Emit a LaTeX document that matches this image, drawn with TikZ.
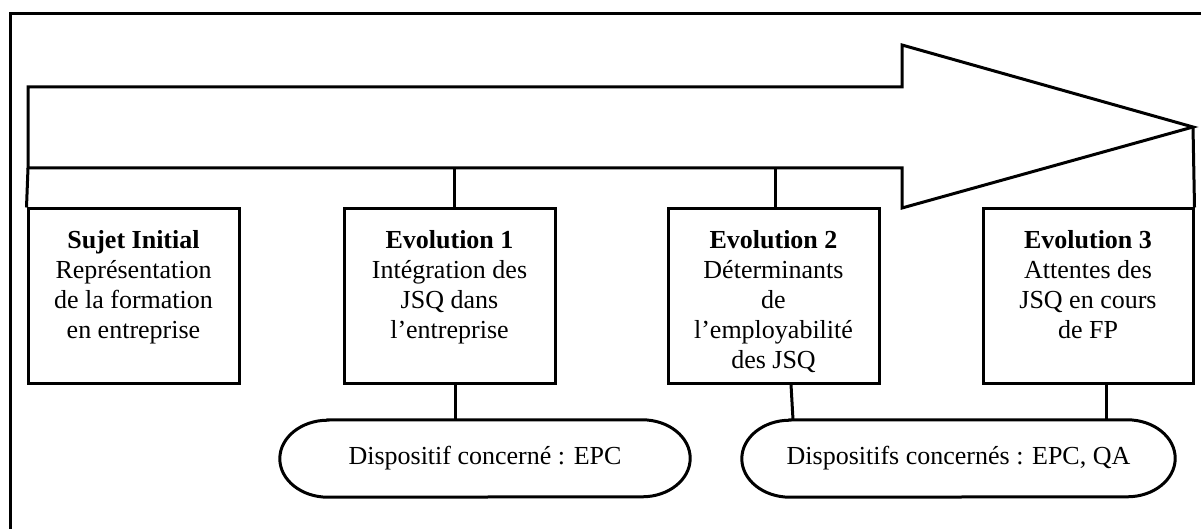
\documentclass[tikz,border=0pt]{standalone}
\usepackage{fontspec}
\setmainfont{Liberation Serif}
\tikzset{
  ln/.style={line width=3pt,line join=miter},
  txt/.style={font=\fontsize{26}{30}\selectfont},
  stagebox/.style={txt,draw,line width=3pt,minimum width=211pt,minimum height=174pt,inner sep=0pt},
  ovalbox/.style={txt,minimum height=77pt,inner sep=0pt}
}
\begin{document}
\begin{tikzpicture}[x=1pt,y=-1pt]
\useasboundingbox (0,0) rectangle (1201,529);
% outer frame
\draw[ln] (10,540) -- (10,14) -- (1215,14);
% big arrow
\coordinate (shaftTL) at (28,87);
\coordinate (shaftBL) at (28,168);
\coordinate (tip) at (1193,127);
\draw[ln] (shaftTL) -- (902,87) -- (902,45) -- (tip) -- (902,208) -- (902,168) -- (shaftBL) -- cycle;
% stage boxes
\node[stagebox] (s0) at (133.5,296) {\parbox[c][132pt][t]{205pt}{\centering\textbf{Sujet Initial}\\Représentation\\de la formation\\en entreprise}};
\node[stagebox] (e1) at (449.5,296) {\parbox[c][132pt][t]{205pt}{\centering\textbf{Evolution 1}\\Intégration des\\JSQ dans\\l’entreprise}};
\node[stagebox] (e2) at (773.5,296) {\parbox[c][132pt][t]{205pt}{\centering\textbf{Evolution 2}\\Déterminants\\de\\l’employabilité\\des JSQ}};
\node[stagebox,minimum width=210pt] (e3) at (1088,296) {\parbox[c][132pt][t]{205pt}{\centering\textbf{Evolution 3}\\Attentes des\\JSQ en cours\\de FP}};
% links from arrow
\draw[ln] (s0.north west) -- (shaftBL);
\draw[ln] ([xshift=4.5pt]e1.north) -- ([xshift=4.5pt]e1.north |- shaftBL);
\draw[ln] ([xshift=1.5pt]e2.north) -- ([xshift=1.5pt]e2.north |- shaftBL);
\draw[ln] (e3.north east) -- (tip);
% ovals
\node[ovalbox,minimum width=410pt] (o1) at (485,458.5) {Dispositif concerné : EPC};
\node[ovalbox,minimum width=433pt] (o2) at (958.5,458.5) {Dispositifs concernés : EPC, QA};
\draw[ln] ([xshift=48pt]o1.north west) -- ([xshift=-48pt]o1.north east)
  arc[start angle=90,end angle=-90,x radius=48pt,y radius=38.5pt]
  -- ([xshift=48pt]o1.south west)
  arc[start angle=270,end angle=90,x radius=48pt,y radius=38.5pt] -- cycle;
\draw[ln] ([xshift=48pt]o2.north west) -- ([xshift=-48pt]o2.north east)
  arc[start angle=90,end angle=-90,x radius=48pt,y radius=38.5pt]
  -- ([xshift=48pt]o2.south west)
  arc[start angle=270,end angle=90,x radius=48pt,y radius=38.5pt] -- cycle;
% links to ovals
\draw[ln] ([xshift=5.5pt]e1.south) -- ([xshift=5.5pt]e1.south |- o1.north);
\draw[ln] ([xshift=17.5pt]e2.south) -- ([xshift=-165.5pt]o2.north);
\draw[ln] ([xshift=18pt]e3.south) -- ([xshift=18pt]e3.south |- o2.north);
\end{tikzpicture}
\end{document}
